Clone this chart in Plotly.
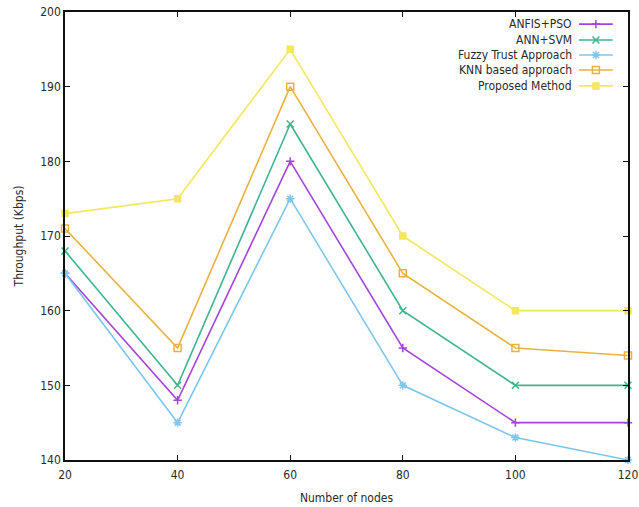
import plotly.graph_objects as go

nodes = [20, 40, 60, 80, 100, 120]
anfis_pso = [165, 148, 180, 155, 145, 145]
ann_svm = [168, 150, 185, 160, 150, 150]
fuzzy_trust = [165, 145, 175, 150, 143, 140]
knn_based = [171, 155, 190, 165, 155, 154]
proposed = [173, 175, 195, 170, 160, 160]

series_names = ["ANFIS+PSO", "ANN+SVM", "Fuzzy Trust Approach", "KNN based approach", "Proposed Method"]
series_values = [anfis_pso, ann_svm, fuzzy_trust, knn_based, proposed]
colors = ["#a444dc", "#3db58d", "#7ec6ee", "#ebb13e", "#f3e75a"]
symbols = ["cross-thin-open", "x-thin-open", "asterisk-open", "square-open", "square"]
msizes = [6, 7, 7, 7, 6]

FONT = "DejaVu Sans Condensed, DejaVu Sans"
TXT = "#2a2a2a"

fig = go.Figure()
for name, vals, c, s, ms in zip(series_names, series_values, colors, symbols, msizes):
    fig.add_trace(go.Scatter(
        x=nodes, y=vals, name=name, mode="lines+markers",
        line=dict(color=c, width=1.6),
        marker=dict(symbol=s, size=ms, color=c, line=dict(color=c, width=1.5)),
        showlegend=False, cliponaxis=False,
    ))

# custom legend (text right-aligned, sample to the right), like gnuplot
row_y = [0.973, 0.9375, 0.904, 0.8705, 0.835]
for name, c, s, ms, yy in zip(series_names, colors, symbols, msizes, row_y):
    fig.add_trace(go.Scatter(
        x=[0.913, 0.973], y=[yy, yy], mode="lines", xaxis="x2", yaxis="y2",
        line=dict(color=c, width=1.6), showlegend=False, hoverinfo="skip",
    ))
    fig.add_trace(go.Scatter(
        x=[0.943], y=[yy], mode="markers", xaxis="x2", yaxis="y2",
        marker=dict(symbol=s, size=ms, color=c, line=dict(color=c, width=1.5)),
        showlegend=False, hoverinfo="skip",
    ))
    fig.add_annotation(x=0.904, y=yy, xref="x2", yref="y2", text=name, showarrow=False,
                       xanchor="right", yanchor="middle", font=dict(family=FONT, size=12, color=TXT))

axis_common = dict(
    showline=True, linecolor="#111111", linewidth=1.5, mirror="ticks",
    ticks="inside", ticklen=5, tickcolor="#111111", tickwidth=1,
    showgrid=False, zeroline=False, automargin=False,
    tickfont=dict(family=FONT, size=12, color=TXT),
)

fig.update_layout(
    width=639, height=507,
    margin=dict(l=65, r=11, t=12, b=47),
    paper_bgcolor="white", plot_bgcolor="white",
    xaxis=dict(range=[20, 120], tickvals=nodes, ticklabelstandoff=3, **axis_common,
               title=dict(text="Number of nodes", font=dict(family=FONT, size=12, color=TXT), standoff=12)),
    yaxis=dict(range=[140, 200], tickvals=[140, 150, 160, 170, 180, 190, 200], **axis_common,
               title=dict(text="Throughput (Kbps)", font=dict(family=FONT, size=12, color=TXT), standoff=14)),
    xaxis2=dict(range=[0, 1], overlaying="x", visible=False, anchor="y2"),
    yaxis2=dict(range=[0, 1], overlaying="y", visible=False, anchor="x2"),
)

fig.write_html("out.html", config={"displayModeBar": False},
               post_script="document.body.style.margin='0';")
